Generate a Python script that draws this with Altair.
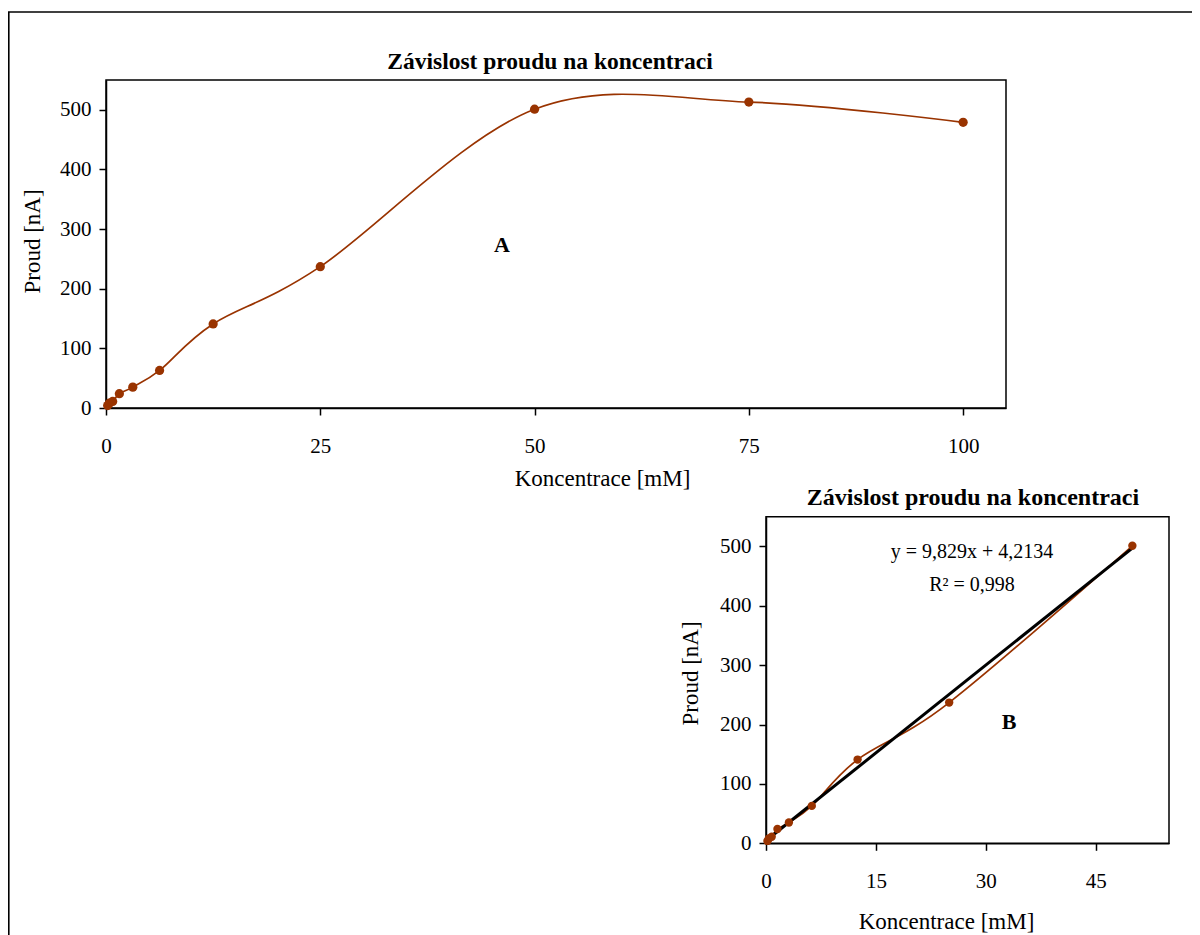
import altair as alt
import pandas as pd

# ---- data ----
konc = [0.195, 0.39, 0.78, 1.56, 3.125, 6.25, 12.5, 25, 50, 75, 100]
proud = [4, 8, 11, 24, 35, 63, 141, 237, 501, 513, 479]
konc_b_max = 50  # panel B shows the linear part up to 50 mM

title_text = "Závislost proudu na koncentraci"
x_title = "Koncentrace [mM]"
y_title = "Proud [nA]"
eq_line1 = "y = 9,829x + 4,2134"
eq_line2 = "R² = 0,998"
a_ticks_x = [0, 25, 50, 75, 100]
b_ticks_x = [0, 15, 30, 45]
ticks_y = [0, 100, 200, 300, 400, 500]

FONT = "Liberation Serif"
BROWN = "#993300"
W, H = 1184, 927

# pixel layout (relative to the chart origin)
A_X = [98, 998]
A_Y = [400, 72]
B_X = [758, 1161]
B_Y = [835.3, 508.7]

df = pd.DataFrame({"konc": konc, "proud": proud})
df_b = df[df["konc"] <= konc_b_max].reset_index(drop=True)
one = pd.DataFrame({"d": [0]})


def text_layer(txt, x, y, size, bold=False, baseline="alphabetic"):
    return alt.Chart(pd.DataFrame({"t": [txt]})).mark_text(
        font=FONT, fontSize=size, fontWeight="bold" if bold else "normal",
        align="center", baseline=baseline, color="black"
    ).encode(x=alt.value(x), y=alt.value(y), text="t:N")


# ---------- panel A ----------
xa = alt.Scale(domain=[0, 105], range=A_X, nice=False, zero=False)
ya = alt.Scale(domain=[0, 550], range=A_Y, nice=False, zero=False)
ax_xa = alt.Axis(values=a_ticks_x, title=x_title, offset=A_Y[0] - H, labelFlush=False,
                 titleX=594, titleY=77.7, titleBaseline="alphabetic", titleAnchor="start",
                 titleAlign="center", labelPadding=20)
ax_ya = alt.Axis(values=ticks_y, title=y_title, offset=-A_X[0], titleX=-74, titleY=233,
                 titleBaseline="middle", titleAlign="center", labelPadding=8)

frame_a = alt.Chart(one).mark_rect(fillOpacity=0, stroke="black", strokeWidth=1.5).encode(
    x=alt.X(datum=0, scale=xa, axis=ax_xa), x2=alt.X2(datum=105),
    y=alt.Y(datum=0, scale=ya, axis=ax_ya), y2=alt.Y2(datum=550))
line_a = alt.Chart(df).mark_line(interpolate="cardinal", color=BROWN, strokeWidth=1.7).encode(
    x=alt.X("konc:Q", scale=xa, axis=ax_xa), y=alt.Y("proud:Q", scale=ya, axis=ax_ya))
pts_a = alt.Chart(df).mark_circle(size=85, color=BROWN, opacity=1).encode(
    x=alt.X("konc:Q", scale=xa, axis=ax_xa), y=alt.Y("proud:Q", scale=ya, axis=ax_ya))
panel_a = alt.layer(frame_a, line_a, pts_a,
                    text_layer(title_text, 542, 61, 23.5, bold=True),
                    text_layer("A", 494, 237, 22, bold=True, baseline="middle"))

# ---------- panel B ----------
xb = alt.Scale(domain=[0, 55], range=B_X, nice=False, zero=False)
yb = alt.Scale(domain=[0, 550], range=B_Y, nice=False, zero=False)
ax_xb = alt.Axis(values=b_ticks_x, title=x_title, offset=B_Y[0] - H, labelFlush=False,
                 titleX=938, titleY=85, titleBaseline="alphabetic", titleAnchor="start",
                 titleAlign="center", labelPadding=20, orient="bottom")
ax_yb = alt.Axis(values=ticks_y, title=y_title, offset=-B_X[0], titleX=-75.5, titleY=665,
                 titleBaseline="middle", titleAlign="center", labelPadding=8, orient="left")

frame_b = alt.Chart(one).mark_rect(fillOpacity=0, stroke="black", strokeWidth=1.5).encode(
    x=alt.X(datum=0, scale=xb, axis=ax_xb), x2=alt.X2(datum=55),
    y=alt.Y(datum=0, scale=yb, axis=ax_yb), y2=alt.Y2(datum=550))
line_b = alt.Chart(df_b).mark_line(interpolate="cardinal", color=BROWN, strokeWidth=1.7).encode(
    x=alt.X("konc:Q", scale=xb, axis=ax_xb), y=alt.Y("proud:Q", scale=yb, axis=ax_yb))
trend_b = alt.Chart(df_b).transform_regression("konc", "proud").mark_line(
    color="black", strokeWidth=3).encode(
    x=alt.X("konc:Q", scale=xb, axis=ax_xb), y=alt.Y("proud:Q", scale=yb, axis=ax_yb))
pts_b = alt.Chart(df_b).mark_circle(size=70, color=BROWN, opacity=1).encode(
    x=alt.X("konc:Q", scale=xb, axis=ax_xb), y=alt.Y("proud:Q", scale=yb, axis=ax_yb))
panel_b = alt.layer(frame_b, line_b, trend_b, pts_b,
                    text_layer(title_text, 965, 497, 24, bold=True),
                    text_layer(eq_line1, 964, 550, 20),
                    text_layer(eq_line2, 964, 583, 20),
                    text_layer("B", 1001, 714, 22, bold=True, baseline="middle"))

# ---------- outer frame ----------
top_rule = alt.Chart(one).mark_rule(color="black", strokeWidth=1.6).encode(
    x=alt.value(0), x2=alt.value(W), y=alt.value(4))
left_rule = alt.Chart(one).mark_rule(color="black", strokeWidth=1.6).encode(
    x=alt.value(0.8), y=alt.value(4), y2=alt.value(H))

chart = alt.layer(panel_a, panel_b, top_rule, left_rule).resolve_scale(
    x="independent", y="independent"
).properties(
    width=W, height=H, padding=0, autosize=alt.AutoSizeParams(type="none")
).configure_view(stroke=None).configure_axis(
    grid=False, domainColor="black", domainWidth=1.5, tickColor="black", tickWidth=1.5,
    tickSize=7, labelColor="black", labelFont=FONT, labelFontSize=21,
    titleColor="black", titleFont=FONT, titleFontSize=23, titleFontWeight="normal"
).configure_text(font=FONT)

chart.save("out.html", embed_options={"renderer": "svg", "actions": False})
